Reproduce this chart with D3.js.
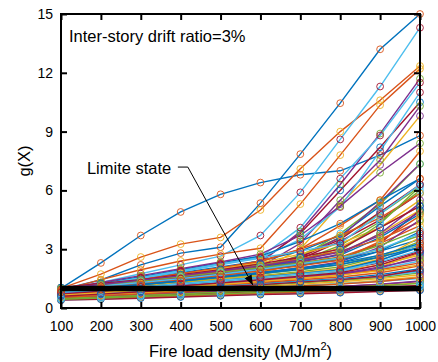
<!DOCTYPE html>
<html>
<head>
<meta charset="utf-8">
<script src="https://cdn.jsdelivr.net/npm/d3@7"></script>
<style>
  body { margin: 0; background: #fff; }
  svg { display: block; font-family: "Liberation Sans", Arial, sans-serif; }
</style>
</head>
<body>
<div id="chart"></div>
<script>
// fire load density (MJ/m2) on the x axis
const fireLoad = [100, 200, 300, 400, 500, 600, 700, 800, 900, 1000];
const xTicks = [100, 200, 300, 400, 500, 600, 700, 800, 900, 1000];
const yTicks = [0, 3, 6, 9, 12, 15];
const limitState = 1;

// matlab default colour order
const colorOrder = ['#0072BD', '#D95319', '#EDB120', '#7E2F8E', '#77AC30', '#4DBEEE', '#A2142F'];

// g(X) per sample
const gSeries = [
    [1.00, 2.30, 3.70, 4.90, 5.80, 6.40, 6.80, 7.00, 7.80, 8.80],
    [1.00, 1.73, 2.60, 3.26, 3.60, 5.00, 7.10, 9.00, 10.60, 12.35],
    [0.75, 1.00, 1.25, 1.45, 1.65, 1.95, 3.00, 5.30, 7.30, 9.80],
    [0.80, 1.10, 1.40, 1.65, 1.90, 2.30, 3.90, 6.30, 8.90, 11.70],
    [0.70, 0.95, 1.20, 1.45, 1.70, 1.95, 2.60, 3.80, 5.30, 7.35],
    [0.90, 1.30, 1.75, 2.20, 2.65, 3.70, 5.90, 8.60, 11.30, 14.30],
    [0.85, 1.15, 1.45, 1.75, 2.05, 2.40, 3.80, 6.00, 8.20, 10.50],
    [0.95, 1.43, 2.20, 2.80, 3.10, 5.35, 7.85, 10.45, 13.20, 15.00],
    [0.90, 1.45, 1.95, 2.40, 2.75, 3.05, 5.30, 7.80, 10.35, 12.20],
    [0.70, 0.95, 1.15, 1.35, 1.55, 1.80, 2.30, 3.10, 4.10, 5.20],
    [0.75, 1.05, 1.30, 1.55, 1.80, 2.10, 3.30, 5.50, 7.55, 10.30],
    [0.80, 1.05, 1.30, 1.55, 1.80, 2.05, 2.70, 3.60, 4.80, 6.20],
    [0.85, 1.20, 1.55, 1.90, 2.25, 2.60, 4.10, 6.60, 8.80, 11.50],
    [0.80, 1.05, 1.30, 1.55, 1.80, 2.05, 2.50, 3.40, 4.50, 5.85],
    [0.90, 1.20, 1.50, 1.80, 2.10, 2.40, 2.90, 3.70, 5.20, 6.60],
    [0.85, 1.15, 1.45, 1.75, 2.05, 2.35, 3.00, 4.20, 5.50, 8.00],
    [0.65, 0.90, 1.10, 1.30, 1.50, 1.70, 2.10, 2.80, 3.80, 5.00],
    [0.75, 1.00, 1.25, 1.50, 1.75, 2.00, 2.60, 3.60, 5.40, 7.35],
    [0.70, 0.95, 1.20, 1.45, 1.70, 1.95, 2.40, 3.20, 4.40, 6.00],
    [0.80, 1.15, 1.50, 1.85, 2.20, 2.55, 3.50, 5.15, 8.00, 11.00],
    [0.75, 1.00, 1.25, 1.50, 1.75, 2.00, 2.60, 3.50, 4.90, 6.30],
    // middle group
    [0.90, 1.25, 1.60, 1.95, 2.30, 2.65, 3.40, 4.30, 5.50, 6.60],
    [0.85, 1.15, 1.45, 1.75, 2.05, 2.40, 3.00, 3.70, 4.60, 5.85],
    [0.80, 1.10, 1.40, 1.70, 2.00, 2.30, 2.75, 3.30, 4.10, 5.50],
    [0.95, 1.30, 1.65, 2.00, 2.35, 2.75, 3.70, 5.20, 6.90, 8.40],
    [0.75, 1.00, 1.30, 1.60, 1.90, 2.20, 2.50, 2.90, 4.30, 6.20],
    [0.90, 1.20, 1.55, 1.90, 2.25, 2.55, 2.90, 3.30, 4.80, 6.30],
    [0.70, 0.95, 1.20, 1.45, 1.70, 1.95, 2.20, 2.50, 3.30, 5.00],
    // main bundle
    [1.05, 1.20, 1.40, 1.60, 1.85, 2.10, 2.40, 2.70, 3.60, 4.80],
    [0.95, 1.10, 1.30, 1.55, 1.80, 2.05, 2.30, 2.60, 3.30, 4.20],
    [0.60, 0.75, 0.90, 1.05, 1.20, 1.35, 1.50, 1.65, 2.10, 2.80],
    [0.50, 0.60, 0.70, 0.80, 0.88, 0.95, 1.02, 1.10, 1.20, 1.35],
    [0.90, 1.05, 1.25, 1.45, 1.65, 1.90, 2.20, 2.50, 3.00, 3.70],
    [0.70, 0.85, 1.00, 1.15, 1.30, 1.45, 1.60, 1.75, 2.00, 2.40],
    [0.45, 0.52, 0.58, 0.65, 0.70, 0.76, 0.82, 0.88, 0.95, 1.05],
    [0.85, 1.00, 1.20, 1.40, 1.60, 1.80, 2.00, 2.30, 2.90, 3.90],
    [0.65, 0.80, 0.95, 1.10, 1.25, 1.40, 1.55, 1.70, 1.95, 2.30],
    [0.55, 0.65, 0.75, 0.85, 0.95, 1.05, 1.15, 1.25, 1.40, 1.60],
    [1.00, 1.15, 1.35, 1.55, 1.80, 2.05, 2.35, 2.75, 3.80, 5.35],
    [0.80, 0.95, 1.10, 1.30, 1.45, 1.65, 1.85, 2.10, 2.60, 3.40],
    [0.40, 0.46, 0.52, 0.58, 0.64, 0.70, 0.75, 0.80, 0.86, 0.92],
    [0.75, 0.90, 1.05, 1.20, 1.35, 1.55, 1.75, 1.95, 2.30, 2.90],
    [0.60, 0.72, 0.84, 0.96, 1.08, 1.20, 1.30, 1.42, 1.60, 1.90],
    [0.95, 1.15, 1.35, 1.60, 1.85, 2.15, 2.50, 2.90, 3.50, 4.40],
    [0.50, 0.58, 0.66, 0.74, 0.82, 0.90, 0.98, 1.05, 1.15, 1.28],
    [0.70, 0.82, 0.96, 1.10, 1.25, 1.40, 1.55, 1.72, 2.05, 2.60],
    [0.85, 1.00, 1.15, 1.35, 1.55, 1.75, 1.95, 2.20, 2.70, 3.20],
    [0.55, 0.64, 0.74, 0.84, 0.94, 1.04, 1.14, 1.24, 1.36, 1.50],
    [1.05, 1.25, 1.45, 1.70, 1.95, 2.25, 2.60, 3.00, 4.10, 5.20],
    [0.65, 0.76, 0.88, 1.00, 1.12, 1.25, 1.38, 1.50, 1.70, 2.00],
    [0.45, 0.50, 0.56, 0.62, 0.68, 0.74, 0.80, 0.86, 0.92, 1.00],
    [0.80, 0.92, 1.06, 1.22, 1.38, 1.55, 1.72, 1.90, 2.20, 2.70],
    [0.90, 1.05, 1.22, 1.40, 1.60, 1.80, 2.05, 2.35, 3.10, 4.50],
    [0.60, 0.70, 0.80, 0.92, 1.04, 1.16, 1.28, 1.40, 1.55, 1.80],
    [0.75, 0.88, 1.02, 1.18, 1.34, 1.50, 1.66, 1.85, 2.40, 3.30],
    [0.50, 0.56, 0.63, 0.70, 0.77, 0.84, 0.91, 0.98, 1.06, 1.15],
    [0.95, 1.10, 1.28, 1.48, 1.70, 1.95, 2.20, 2.45, 2.90, 3.50],
    [0.70, 0.80, 0.92, 1.04, 1.16, 1.30, 1.44, 1.58, 1.80, 2.15],
    [0.85, 0.98, 1.12, 1.28, 1.45, 1.62, 1.80, 2.00, 2.50, 3.60],
    [0.55, 0.62, 0.70, 0.78, 0.86, 0.94, 1.02, 1.10, 1.22, 1.38],
    [1.00, 1.18, 1.38, 1.60, 1.82, 2.05, 2.30, 2.55, 3.20, 4.00],
    [0.65, 0.75, 0.86, 0.98, 1.10, 1.22, 1.34, 1.46, 1.62, 1.85],
    [0.40, 0.45, 0.50, 0.56, 0.62, 0.68, 0.73, 0.78, 0.84, 0.90],
    [0.80, 0.94, 1.08, 1.24, 1.40, 1.58, 1.76, 1.95, 2.45, 3.10],
    [0.90, 1.06, 1.24, 1.44, 1.66, 1.90, 2.15, 2.45, 3.40, 4.70],
    [0.60, 0.68, 0.78, 0.88, 0.98, 1.10, 1.22, 1.34, 1.50, 1.70],
    [0.75, 0.86, 0.98, 1.12, 1.26, 1.42, 1.58, 1.75, 2.10, 2.50],
    [0.50, 0.57, 0.64, 0.72, 0.80, 0.88, 0.96, 1.04, 1.14, 1.25],
    [0.95, 1.12, 1.30, 1.50, 1.72, 1.98, 2.25, 2.55, 3.00, 3.80],
    [0.70, 0.83, 0.97, 1.12, 1.28, 1.44, 1.62, 1.80, 2.20, 2.85],
    [0.85, 1.00, 1.18, 1.38, 1.58, 1.80, 2.05, 2.30, 2.70, 3.30],
    [0.55, 0.63, 0.72, 0.82, 0.92, 1.02, 1.12, 1.22, 1.35, 1.55],
    [0.65, 0.78, 0.92, 1.06, 1.20, 1.36, 1.52, 1.68, 1.90, 2.20],
    [1.00, 1.20, 1.42, 1.65, 1.90, 2.15, 2.45, 2.85, 3.70, 4.90],
    [0.45, 0.51, 0.58, 0.65, 0.72, 0.79, 0.86, 0.93, 1.00, 1.10],
    [0.80, 0.93, 1.08, 1.24, 1.40, 1.56, 1.74, 1.92, 2.35, 2.95],
    [0.60, 0.71, 0.83, 0.95, 1.07, 1.19, 1.32, 1.45, 1.62, 1.95],
    [0.90, 1.04, 1.20, 1.38, 1.56, 1.76, 1.98, 2.22, 2.60, 3.10]
];

const width = 438, height = 362;
const margin = { top: 14, right: 18, bottom: 54, left: 61 };

const svg = d3.select('#chart').append('svg')
    .attr('width', width)
    .attr('height', height);

const x = d3.scaleLinear().domain([100, 1000]).range([margin.left, width - margin.right]);
const y = d3.scaleLinear().domain([0, 15]).range([height - margin.bottom, margin.top]);

const line = d3.line()
    .x((d, i) => x(fireLoad[i]))
    .y(d => y(d));

// lines first, then markers (matlab keeps cycling colours so markers are shifted by one)
svg.append('g')
    .selectAll('path')
    .data(gSeries)
    .enter().append('path')
    .attr('d', line)
    .attr('fill', 'none')
    .attr('stroke', (d, i) => colorOrder[i % 7])
    .attr('stroke-width', 1.4);

const n = gSeries.length;
const mg = svg.append('g');
gSeries.forEach(function (s, i) {
    mg.append('g')
        .selectAll('circle')
        .data(s)
        .enter().append('circle')
        .attr('cx', (d, j) => x(fireLoad[j]))
        .attr('cy', d => y(d))
        .attr('r', 3.4)
        .attr('fill', 'none')
        .attr('stroke', colorOrder[(n + i) % 7])
        .attr('stroke-width', 0.9);
});

// limit state g(X) = 1
svg.append('line')
    .attr('x1', x(100)).attr('x2', x(1000))
    .attr('y1', y(limitState)).attr('y2', y(limitState))
    .attr('stroke', '#000')
    .attr('stroke-width', 5.5);

// axes, ticks point inward
const tickFs = '14px';
const labelFs = '16.5px';
const gx = svg.append('g')
    .attr('transform', 'translate(0,' + y(0) + ')')
    .call(d3.axisBottom(x).tickValues(xTicks).tickFormat(d3.format('d'))
        .tickSizeInner(-6).tickSizeOuter(0).tickPadding(13));
const gy = svg.append('g')
    .attr('transform', 'translate(' + x(100) + ',0)')
    .call(d3.axisLeft(y).tickValues(yTicks).tickFormat(d3.format('d'))
        .tickSizeInner(-6).tickSizeOuter(0).tickPadding(8));
const gt = svg.append('g')
    .attr('transform', 'translate(0,' + y(15) + ')')
    .call(d3.axisTop(x).tickValues(xTicks).tickSizeInner(-6).tickSizeOuter(0).tickFormat(''));
const gr = svg.append('g')
    .attr('transform', 'translate(' + x(1000) + ',0)')
    .call(d3.axisRight(y).tickValues(yTicks).tickSizeInner(-6).tickSizeOuter(0).tickFormat(''));

[gx, gy, gt, gr].forEach(function (g) {
    g.select('.domain').remove();
    g.selectAll('.tick line').attr('stroke', '#000').attr('stroke-width', 2);
    g.selectAll('.tick text')
        .attr('fill', '#000')
        .style('font-size', tickFs)
        .style('font-family', '"Liberation Sans", Arial, sans-serif');
});

svg.append('rect')
    .attr('x', x(100)).attr('y', y(15))
    .attr('width', x(1000) - x(100))
    .attr('height', y(0) - y(15))
    .attr('fill', 'none')
    .attr('stroke', '#000')
    .attr('stroke-width', 2);

// axis titles
const xt = svg.append('text')
    .attr('x', (x(100) + x(1000)) / 2)
    .attr('y', 357)
    .attr('text-anchor', 'middle')
    .style('font-size', labelFs);
xt.append('tspan').text('Fire load density (MJ/m');
xt.append('tspan').attr('dy', -7).style('font-size', '11px').text('2');
xt.append('tspan').attr('dy', 7).text(')');

svg.append('text')
    .attr('transform', 'translate(30,' + ((y(0) + y(15)) / 2) + ') rotate(-90)')
    .attr('text-anchor', 'middle')
    .style('font-size', labelFs)
    .text('g(X)');

// annotations
svg.append('text')
    .attr('x', x(120)).attr('y', y(13.57))
    .style('font-size', labelFs)
    .text('Inter-story drift ratio=3%');

svg.append('text')
    .attr('x', x(165)).attr('y', y(6.84))
    .style('font-size', labelFs)
    .text('Limite state');

svg.append('defs').append('marker')
    .attr('id', 'head')
    .attr('viewBox', '0 0 10 10')
    .attr('refX', 10).attr('refY', 5)
    .attr('markerWidth', 10).attr('markerHeight', 10)
    .attr('markerUnits', 'userSpaceOnUse')
    .attr('orient', 'auto')
    .append('path')
    .attr('d', 'M0,1 L10,5 L0,9 Z')
    .attr('fill', '#000');

const arrowPts = [[393, 7.19], [418, 7.19], [581, 1.17]];
svg.append('path')
    .attr('d', d3.line().x(d => x(d[0])).y(d => y(d[1]))(arrowPts))
    .attr('fill', 'none')
    .attr('stroke', '#000')
    .attr('stroke-width', 1)
    .attr('marker-end', 'url(#head)');
</script>
</body>
</html>
